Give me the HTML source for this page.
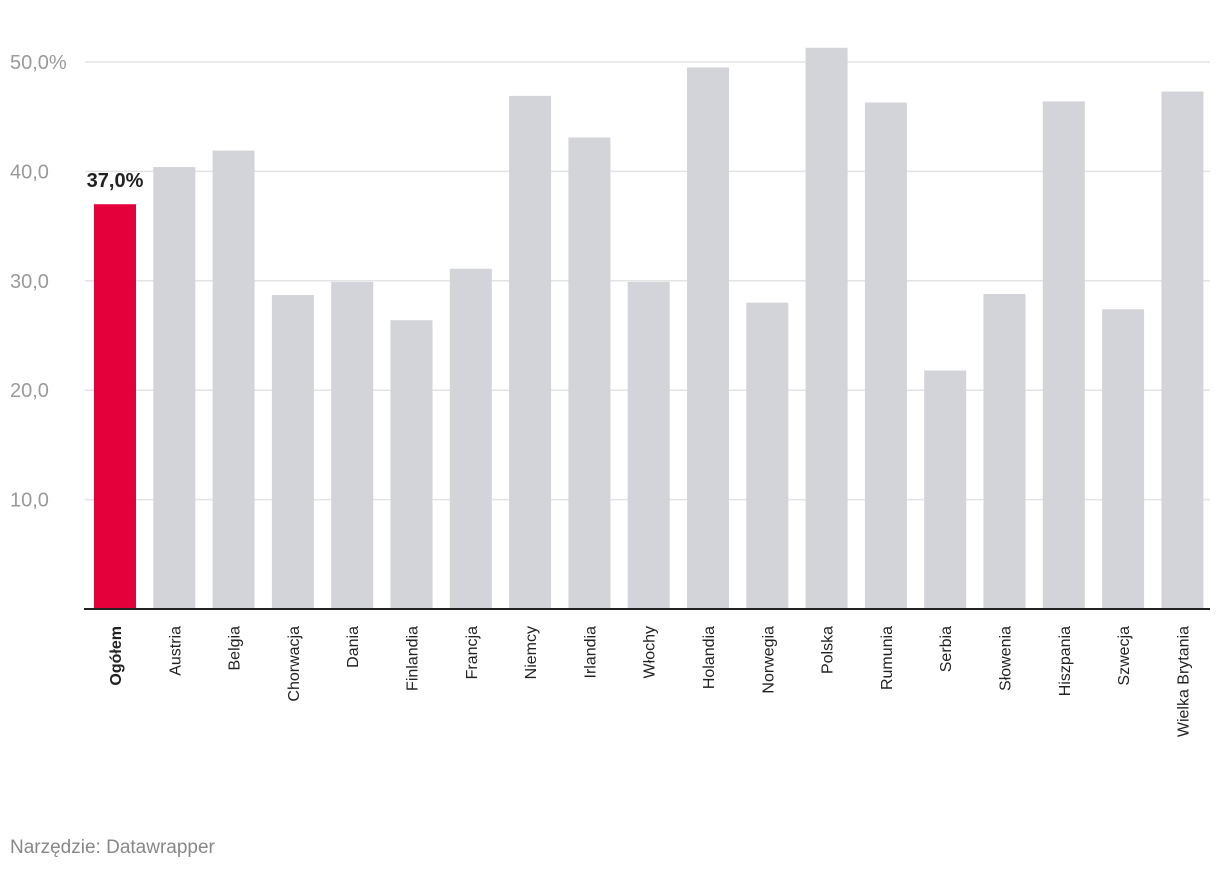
<!DOCTYPE html>
<html><head><meta charset="utf-8"><style>
body{margin:0;background:#fff;font-family:"Liberation Sans",sans-serif}
svg{display:block}
</style></head><body>
<svg id="chart" width="1220" height="872" xmlns="http://www.w3.org/2000/svg">
<g id="grid"></g><g id="bars"></g><g id="labels"></g>
<text x="10" y="853" font-size="19" fill="#888">Narzędzie: Datawrapper</text>
</svg>
<script>
const categories=["Ogółem","Austria","Belgia","Chorwacja","Dania","Finlandia","Francja","Niemcy","Irlandia","Włochy","Holandia","Norwegia","Polska","Rumunia","Serbia","Słowenia","Hiszpania","Szwecja","Wielka Brytania"];
const values=[37.0,40.4,41.9,28.7,29.9,26.4,31.1,46.9,43.1,29.9,49.5,28.0,51.3,46.3,21.8,28.8,46.4,27.4,47.3];
const ticks=[10,20,30,40,50];
const tickLabels=["10,0","20,0","30,0","40,0","50,0%"];
const NS="http://www.w3.org/2000/svg";
const y0=609,pxPer=10.94;
const y=v=>y0-v*pxPer;
const x=i=>94+i*59.3;
const bw=42;
function mk(tag,attrs,parent,text){const e=document.createElementNS(NS,tag);for(const k in attrs)e.setAttribute(k,attrs[k]);if(text!==undefined)e.textContent=text;parent.appendChild(e);return e;}
const grid=document.getElementById('grid'),bars=document.getElementById('bars'),labels=document.getElementById('labels');
ticks.forEach((t,i)=>{
  const l=mk('line',{x1:85,x2:1210,y1:y(t),y2:y(t),stroke:'#e3e3e3','stroke-width':1.5},grid);
  
  
  const tx=mk('text',{x:10,y:y(t)+7,'font-size':20,fill:'#9a9a9a'},grid,tickLabels[i]);
  
  
});
values.forEach((v,i)=>{
  const r=mk('rect',{x:x(i),y:y(v),width:bw,height:y0-y(v),fill:i===0?'#e4003b':'#d3d4d9'},bars);
  
  
  const cx=x(i)+bw/2+6;
  const t=mk('text',{x:0,y:0,'font-size':16,fill:'#222','font-weight':i===0?'bold':'normal','text-anchor':'end',transform:`translate(${cx},626) rotate(-90)`},labels,categories[i]);
  
  
});
const vl=mk('text',{x:x(0)+bw/2,y:y(values[0])-17,'font-size':20,'font-weight':'bold',fill:'#222','text-anchor':'middle'},labels,values[0].toFixed(1).replace('.',',')+'%');


const base=mk('line',{x1:84,x2:1210,y1:y0,y2:y0,stroke:'#222','stroke-width':2},labels);


</script>
</body></html>
